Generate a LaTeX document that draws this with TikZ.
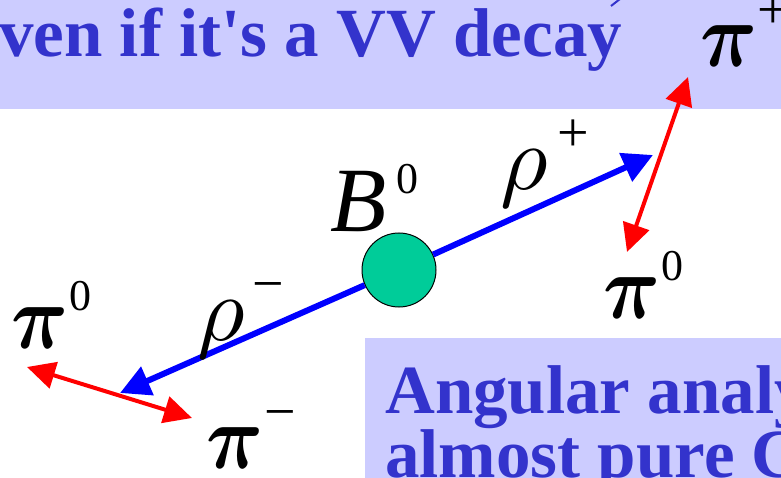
\documentclass[tikz,border=0pt]{standalone}
\usepackage{amsmath}
\usepackage{fontspec}
\setmainfont{Liberation Serif}
\usetikzlibrary{arrows.meta}
\DeclareFontShape{OML}{cmm}{m}{it}{<->cmmi10}{}
\DeclareFontShape{OML}{cmm}{b}{it}{<->cmmib10}{}
\definecolor{boxlila}{HTML}{CCCCFF}
\definecolor{boxtext}{HTML}{3333CC}
\definecolor{mesgreen}{HTML}{00CC99}
\newcommand{\teil}[3][1pt]{#2\kern#1\raisebox{38pt}{\fontsize{44}{44}\selectfont #3}}
\newcommand{\vz}[1]{{\fontsize{56}{56}\selectfont #1}}
\newcommand{\pion}{\scalebox{0.86}[1]{$\boldsymbol{\pi}$}}

\begin{document}
\begin{tikzpicture}[x=1pt, y=-1pt,
  teilchen/.style={anchor=base west, inner sep=0pt, font=\fontsize{92}{92}\selectfont},
  boxtxt/.style={anchor=base west, inner sep=0pt, text=boxtext, font=\fontsize{69}{69}\selectfont\bfseries},
  rhopfeil/.style={-{Triangle[length=30pt,width=30pt]}, blue, line width=6pt},
  pipfeil/.style={{Triangle[length=28pt,width=27pt]}-{Triangle[length=28pt,width=27pt]}, red, line width=4pt}]
  \useasboundingbox (0,0) rectangle (781,478);
  \clip (0,0) rectangle (781,478);
  % Kaesten
  \fill[boxlila] (0,0) rectangle (781,109);
  \fill[boxlila] (365,338) rectangle (781,478);
  \node[boxtxt] (oben) at (-1,57) {ven if it\textquotesingle s a VV decay};
  \draw[boxtext, line width=2pt] (611,6) -- (620,-1);
  \node[boxtxt] (unten1) at (385,413) {Angular analy};
  \node[boxtxt] (unten2) at (385,477) {almost pure C};
  % Zerfallsprodukte
  \coordinate (rhoptip) at (653,155);
  \coordinate (rhomtip) at (120,393);
  \coordinate (piplus) at (688,77);
  \coordinate (pinullr) at (627,252);
  \coordinate (pinulll) at (27,367);
  \coordinate (piminus) at (192,418);
  \node[circle, draw=black, line width=1pt, fill=mesgreen, minimum size=74pt, inner sep=0pt] (bmeson) at (399,270) {};
  % Pfeile
  \draw[rhopfeil] (bmeson) -- (rhoptip);
  \draw[rhopfeil] (bmeson) -- (rhomtip);
  \draw[pipfeil] (pinullr) -- (piplus);
  \draw[pipfeil] (pinulll) -- (piminus);
  % Beschriftung
  \node[teilchen] (lbB) at (330,232) {\teil[10pt]{\textit{B}}{0}};
  \node[teilchen] (lbrhop) at (500,190) {\teil[10pt]{$\rho$}{\vz{+}}};
  \node[teilchen] (lbrhom) at (197,340) {\teil[8pt]{$\rho$}{\vz{−}}};
  \node[teilchen] (lbpip) at (700,67) {\teil[0pt]{\pion}{\vz{+}}};
  \node[teilchen] (lbpi0r) at (603,318) {\teil{\pion}{0}};
  \node[teilchen] (lbpi0l) at (11,348) {\teil{\pion}{0}};
  \node[teilchen] (lbpim) at (206,468) {\teil{\pion}{\vz{−}}};
\end{tikzpicture}
\end{document}
